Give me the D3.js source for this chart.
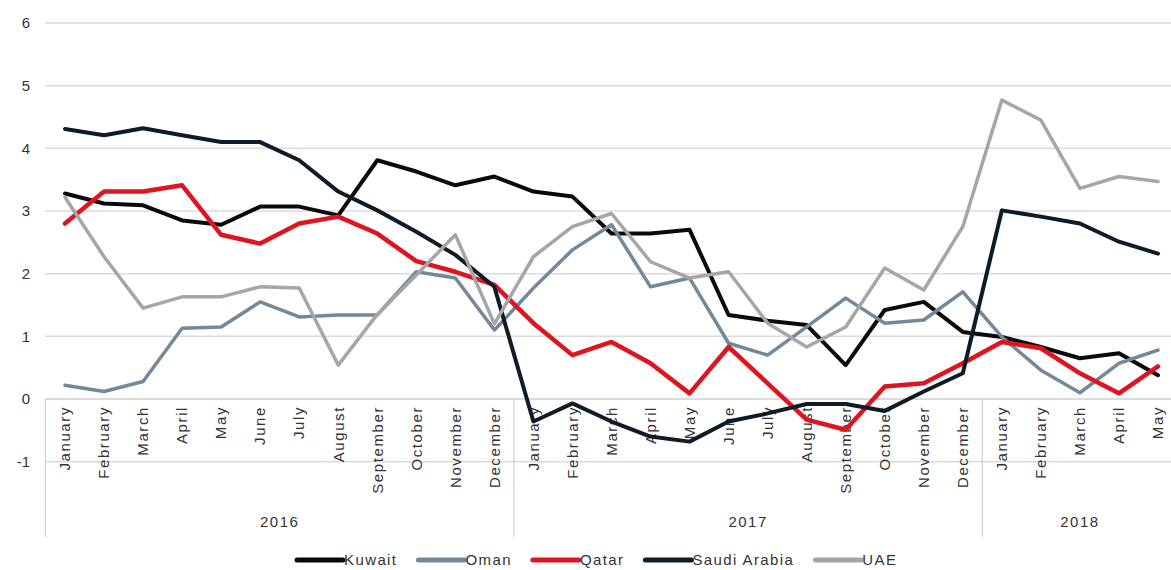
<!DOCTYPE html>
<html>
<head>
<meta charset="utf-8">
<script src="https://cdn.jsdelivr.net/npm/d3@7"></script>
<style>
  body { margin: 0; background: #fff; }
  text { font-family: "Liberation Sans", Arial, sans-serif; fill: #333; }
</style>
</head>
<body>
<script>
// data
var monthNames = ["January", "February", "March", "April", "May", "June", "July",
                  "August", "September", "October", "November", "December"];
var years = ["2016", "2017", "2018"];
var monthsPerYear = [12, 12, 5];
var yTicks = [-1, 0, 1, 2, 3, 4, 5, 6];

var seriesNames = ["Kuwait", "Oman", "Qatar", "Saudi Arabia", "UAE"];
var seriesColors = ["#0a0a0a", "#71899a", "#e0141e", "#0e1c28", "#a6a6a6"];

var kuwait = [3.28, 3.12, 3.09, 2.85, 2.78, 3.07, 3.07, 2.93, 3.81, 3.63, 3.41, 3.55,
              3.31, 3.23, 2.64, 2.64, 2.70, 1.34, 1.25, 1.18, 0.54, 1.42, 1.55, 1.07,
              0.99, 0.83, 0.65, 0.73, 0.38];
var oman = [0.22, 0.12, 0.28, 1.13, 1.15, 1.55, 1.31, 1.34, 1.34, 2.03, 1.93, 1.10,
            1.77, 2.38, 2.78, 1.79, 1.93, 0.89, 0.70, 1.15, 1.61, 1.21, 1.26, 1.71,
            0.99, 0.46, 0.10, 0.57, 0.78];
var qatar = [2.80, 3.31, 3.31, 3.41, 2.62, 2.48, 2.80, 2.91, 2.64, 2.20, 2.03, 1.82,
             1.21, 0.70, 0.91, 0.57, 0.09, 0.83, 0.25, -0.33, -0.49, 0.20, 0.25, 0.57,
             0.91, 0.81, 0.41, 0.09, 0.52];
var saudi = [4.31, 4.21, 4.32, 4.21, 4.10, 4.10, 3.81, 3.31, 3.01, 2.67, 2.30, 1.79,
             -0.36, -0.07, -0.36, -0.60, -0.68, -0.36, -0.23, -0.08, -0.08, -0.19, 0.12, 0.41,
             3.01, 2.91, 2.80, 2.51, 2.32];
var uae = [3.22, 2.27, 1.45, 1.63, 1.63, 1.79, 1.77, 0.54, 1.35, 1.98, 2.62, 1.20,
           2.27, 2.75, 2.96, 2.19, 1.93, 2.03, 1.21, 0.83, 1.15, 2.09, 1.74, 2.75,
           4.77, 4.45, 3.36, 3.55, 3.47];

var seriesValues = [kuwait, oman, qatar, saudi, uae];
var strokeWidths = [4, 3.5, 4.5, 4, 3.5];

// build category list (year + month)
var categories = [];
years.forEach(function(y, yi) {
  for (var m = 0; m < monthsPerYear[yi]; m++) {
    categories.push({ id: y + "-" + m, year: y, month: monthNames[m] });
  }
});

var screen = { width: 1171, height: 570 };

var svg = d3.select("body")
            .append("svg")
            .attr("width", screen.width)
            .attr("height", screen.height);

var xScale = d3.scaleBand()
               .domain(categories.map(function(d) { return d.id; }))
               .range([45.5, 1177.5])
               .padding(0);

var yScale = d3.scaleLinear()
               .domain([0, 6])
               .range([399, 23]);

var cx = function(i) { return xScale(categories[i].id) + xScale.bandwidth() / 2; };

// gridlines
svg.append("g")
   .attr("class", "grid")
   .selectAll("line")
   .data(yTicks)
   .enter()
   .append("line")
   .attr("x1", 45)
   .attr("x2", screen.width)
   .attr("y1", function(d) { return yScale(d); })
   .attr("y2", function(d) { return yScale(d); })
   .attr("stroke", function(d) { return d === 0 ? "#cfcfcf" : "#dcdcdc"; })
   .attr("stroke-width", 1.5);

// y labels
svg.append("g")
   .attr("class", "yLabels")
   .selectAll("text")
   .data(yTicks)
   .enter()
   .append("text")
   .attr("x", 30)
   .attr("y", function(d) { return yScale(d); })
   .attr("dy", "0.35em")
   .attr("text-anchor", "end")
   .attr("font-size", 15)
   .text(function(d) { return d; });

// year separators
var bounds = [0];
monthsPerYear.forEach(function(n, i) { bounds.push(bounds[i] + n); });

svg.append("g")
   .attr("class", "separators")
   .selectAll("line")
   .data(bounds)
   .enter()
   .append("line")
   .attr("x1", function(b) { return b < categories.length ? xScale(categories[b].id) : xScale.range()[1]; })
   .attr("x2", function(b) { return b < categories.length ? xScale(categories[b].id) : xScale.range()[1]; })
   .attr("y1", yScale(0))
   .attr("y2", 537)
   .attr("stroke", "#d0d0d0")
   .attr("stroke-width", 1.2);

// month labels
svg.append("g")
   .attr("class", "monthLabels")
   .selectAll("text")
   .data(categories)
   .enter()
   .append("text")
   .attr("transform", function(d, i) { return "translate(" + cx(i) + ",406) rotate(-90)"; })
   .attr("dy", "0.35em")
   .attr("text-anchor", "end")
   .attr("font-size", 15)
   .attr("letter-spacing", 1.6)
   .text(function(d) { return d.month; });

// year labels
svg.append("g")
   .attr("class", "yearLabels")
   .selectAll("text")
   .data(years)
   .enter()
   .append("text")
   .attr("x", function(d, i) {
     var left = xScale(categories[bounds[i]].id);
     var right = bounds[i + 1] < categories.length ? xScale(categories[bounds[i + 1]].id) : xScale.range()[1];
     return (left + right) / 2;
   })
   .attr("y", 527)
   .attr("text-anchor", "middle")
   .attr("font-size", 15)
   .attr("letter-spacing", 1.5)
   .text(function(d) { return d; });

// lines
var drawLine = d3.line()
                 .x(function(d, i) { return cx(i); })
                 .y(function(d) { return yScale(d); });

svg.append("g")
   .attr("class", "lines")
   .selectAll("path")
   .data(seriesValues)
   .enter()
   .append("path")
   .attr("d", drawLine)
   .attr("fill", "none")
   .attr("stroke", function(d, i) { return seriesColors[i]; })
   .attr("stroke-width", function(d, i) { return strokeWidths[i]; })
   .attr("stroke-linejoin", "round")
   .attr("stroke-linecap", "round");

// legend
var legend = svg.append("g").attr("class", "legend");
var lx = 297;
seriesNames.forEach(function(name, i) {
  legend.append("line")
        .attr("x1", lx)
        .attr("x2", lx + 46)
        .attr("y1", 560)
        .attr("y2", 560)
        .attr("stroke", seriesColors[i])
        .attr("stroke-width", 5)
        .attr("stroke-linecap", "round");
  var t = legend.append("text")
                .attr("x", lx + 47)
                .attr("y", 560)
                .attr("dy", "0.35em")
                .attr("font-size", 15)
                .attr("letter-spacing", 1.4)
                .text(name);
  lx = lx + 47 + t.node().getComputedTextLength() + 21;
});
</script>
</body>
</html>
